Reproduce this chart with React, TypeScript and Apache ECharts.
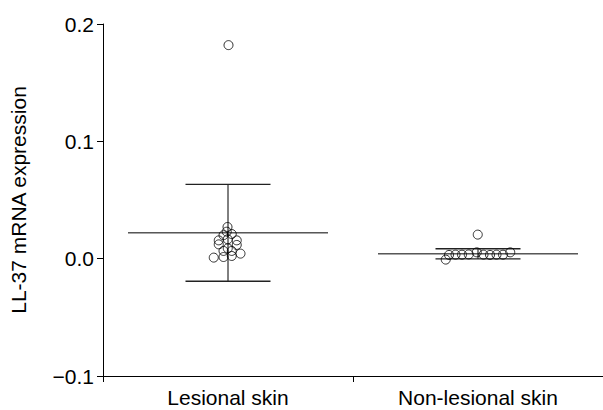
import React, { useEffect, useRef } from "react";
import * as echarts from "echarts";

const categories = ["Lesional skin", "Non-lesional skin"];
const yTicks = [-0.1, 0.0, 0.1, 0.2];
const yTitle = "LL-37 mRNA expression";

// individual points: [x position within category band (0..2), value]
const lesionalPoints: [number, number][] = [
  [0.502, 0.182],
  [0.498, 0.027],
  [0.495, 0.023],
  [0.482, 0.02],
  [0.515, 0.021],
  [0.463, 0.0156],
  [0.499, 0.0165],
  [0.535, 0.0156],
  [0.463, 0.0122],
  [0.535, 0.0117],
  [0.499, 0.0088],
  [0.482, 0.0066],
  [0.515, 0.0066],
  [0.443, 0.0009],
  [0.482, 0.0014],
  [0.515, 0.0023],
  [0.55, 0.0043],
];
const nonLesionalPoints: [number, number][] = [
  [1.499, 0.0205],
  [1.371, -0.0008],
  [1.384, 0.0032],
  [1.41, 0.0034],
  [1.436, 0.0034],
  [1.463, 0.0036],
  [1.495, 0.0054],
  [1.522, 0.0034],
  [1.548, 0.0032],
  [1.574, 0.0034],
  [1.6, 0.0034],
  [1.629, 0.0054],
];
const groupCenters = [0.5, 1.5];
const means = [0.022, 0.0041];
const sds = [0.0413, 0.0043];

export default function App() {
  const ref = useRef<HTMLDivElement>(null);
  useEffect(() => {
    if (!ref.current) return;
    const chart = echarts.init(ref.current, null, { renderer: "svg" });
    const font = "Liberation Sans, Arial, sans-serif";
    const meanHalf = 0.4;
    const capHalf = 0.17;
    const errData = groupCenters.map((c, i) => [c, means[i], sds[i]]);
    chart.setOption({
      animation: false,
      backgroundColor: "#ffffff",
      grid: { left: 102, right: -8, top: 24, bottom: 34 },
      xAxis: [
        {
          type: "category",
          data: categories,
          boundaryGap: true,
          axisLine: { show: true, onZero: false, lineStyle: { color: "#000", width: 1 } },
          axisTick: { show: true, length: 6, lineStyle: { color: "#000" } },
          axisLabel: { color: "#000", fontSize: 21, fontFamily: font, margin: 11 },
          splitLine: { show: false },
        },
        {
          type: "value",
          min: 0,
          max: 2,
          show: false,
        },
      ],
      yAxis: {
        type: "value",
        min: -0.1,
        max: 0.2,
        interval: 0.1,
        name: yTitle,
        nameLocation: "middle",
        nameRotate: 90,
        nameGap: 74,
        nameTextStyle: { color: "#000", fontSize: 21, fontFamily: font },
        axisLine: { show: true, lineStyle: { color: "#000", width: 1 } },
        axisTick: { show: true, length: 6, lineStyle: { color: "#000" } },
        axisLabel: {
          color: "#000",
          fontSize: 21,
          fontFamily: font,
          margin: 9,
          formatter: (v: number) => {
            const t = yTicks.find((y) => Math.abs(y - v) < 1e-9);
            const val = t !== undefined ? t : v;
            return val < 0 ? "\u2212" + Math.abs(val).toFixed(1) : val.toFixed(1);
          },
        },
        splitLine: { show: false },
      },
      series: [
        {
          type: "custom",
          xAxisIndex: 1,
          yAxisIndex: 0,
          data: errData,
          z: 3,
          renderItem: (params: any, api: any) => {
            const c = api.value(0);
            const m = api.value(1);
            const s = api.value(2);
            const ml = api.coord([c - meanHalf, m]);
            const mr = api.coord([c + meanHalf, m]);
            const top = api.coord([c, m + s]);
            const bot = api.coord([c, m - s]);
            const tl = api.coord([c - capHalf, m + s]);
            const tr = api.coord([c + capHalf, m + s]);
            const bl = api.coord([c - capHalf, m - s]);
            const br = api.coord([c + capHalf, m - s]);
            const st = { stroke: "#000", lineWidth: 1 };
            const capSt = { stroke: "#222", lineWidth: 1.4 };
            return {
              type: "group",
              children: [
                { type: "line", shape: { x1: ml[0], y1: ml[1], x2: mr[0], y2: mr[1] }, style: st },
                { type: "line", shape: { x1: top[0], y1: top[1], x2: bot[0], y2: bot[1] }, style: st },
                { type: "line", shape: { x1: tl[0], y1: tl[1], x2: tr[0], y2: tr[1] }, style: capSt },
                { type: "line", shape: { x1: bl[0], y1: bl[1], x2: br[0], y2: br[1] }, style: capSt },
              ],
            };
          },
        },
        {
          type: "scatter",
          xAxisIndex: 1,
          yAxisIndex: 0,
          data: lesionalPoints,
          symbol: "circle",
          symbolSize: 9,
          z: 4,
          itemStyle: { color: "rgba(255,255,255,0)", borderColor: "#000", borderWidth: 1 },
        },
        {
          type: "scatter",
          xAxisIndex: 1,
          yAxisIndex: 0,
          data: nonLesionalPoints,
          symbol: "circle",
          symbolSize: 9,
          z: 4,
          itemStyle: { color: "rgba(255,255,255,0)", borderColor: "#000", borderWidth: 1 },
        },
      ],
    });
    return () => chart.dispose();
  }, []);
  return (
    <div
      ref={ref}
      style={{ position: "absolute", left: 0, top: 0, width: 603, height: 410 }}
    />
  );
}
